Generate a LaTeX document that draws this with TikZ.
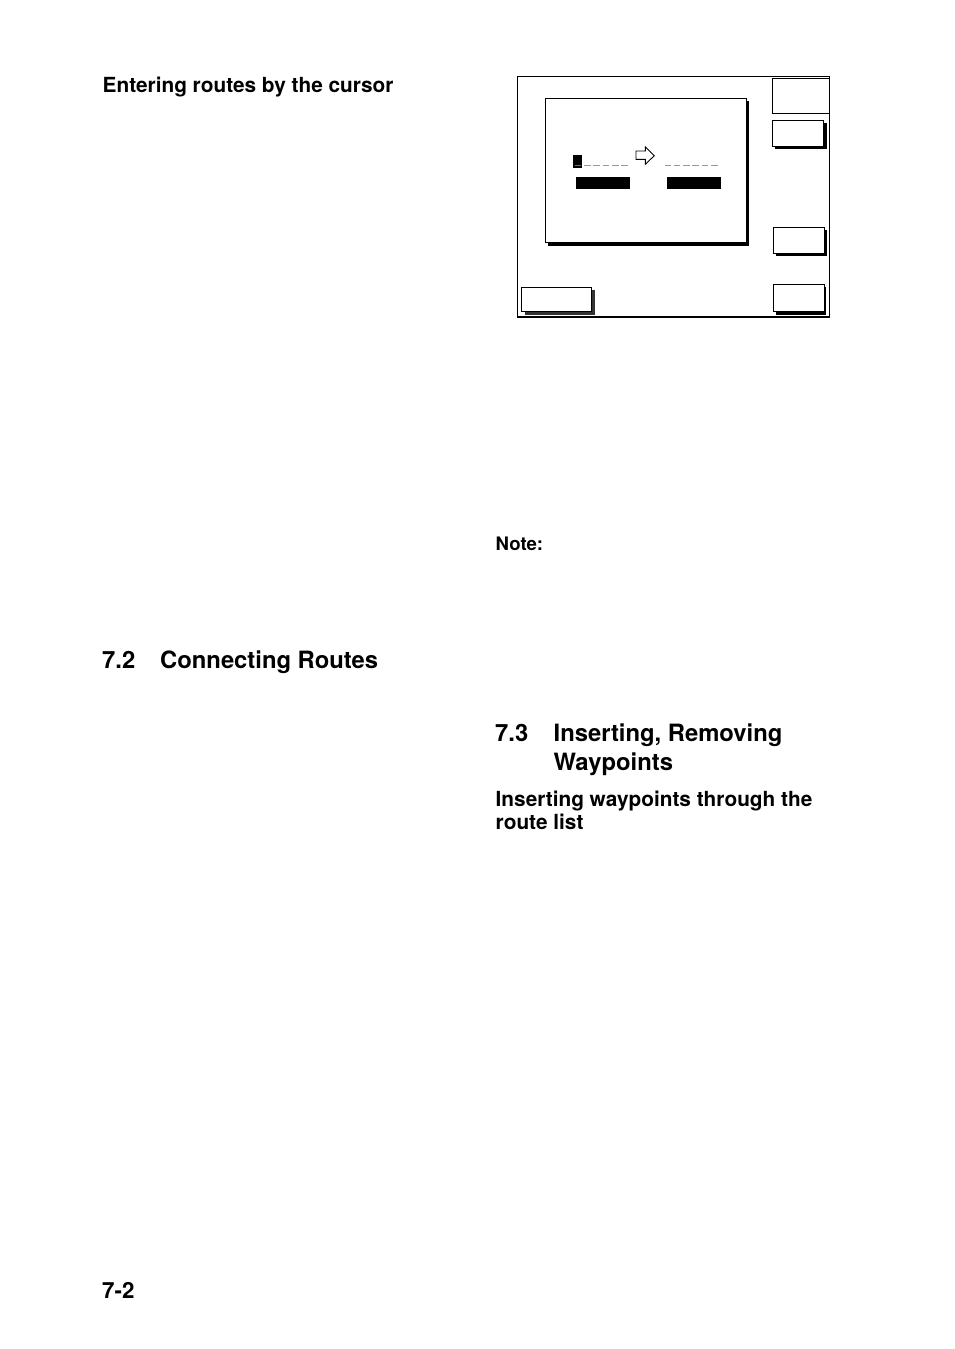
\documentclass[tikz,border=0pt]{standalone}
\usepackage{fontspec}
\setmainfont{TeX Gyre Heros}
\begin{document}
\begin{tikzpicture}[x=1pt,y=-1pt,
  lab/.style={anchor=base west,inner sep=0pt,font=\fontsize{20.8}{25}\selectfont\bfseries},
  small/.style={anchor=base west,inner sep=0pt,font=\fontsize{18.6}{22}\selectfont\bfseries},
  head/.style={anchor=base west,inner sep=0pt,font=\fontsize{23.8}{29}\selectfont\bfseries},
  folio/.style={anchor=base west,inner sep=0pt,font=\fontsize{22.3}{27}\selectfont\bfseries},
  frm/.style={draw=black,line width=1.2pt,fill=white},
  shd/.style={fill=black},
  grayd/.style={draw=black!40,line width=1.5pt},
  ]
\useasboundingbox (0,0) rectangle (954,1349);
\fill[white] (0,0) rectangle (954,1349);
\node[lab] (t1) at (102.5,92.5) {Entering routes by the cursor};
\node[small] (t2) at (495.5,550) {Note:};
\node[head] (t3) at (102,668.5) {7.2};
\node[head] (t4) at (160,668.5) {Connecting Routes};
\node[head] (t5) at (495,741.5) {7.3};
\node[head] (t6) at (553.5,741.5) {Inserting, Removing};
\node[head] (t7) at (553.5,770.5) {Waypoints};
\node[lab] (t8) at (495.5,806) {Inserting waypoints through the};
\node[lab] (t9) at (495.5,829) {route list};
\node[folio] (t10) at (102,1298.5) {7-2};
% screen
\draw[draw=black,line width=1.3pt,fill=white] (517.7,76.5) rectangle (829.5,316.7);
\draw[draw=black,line width=1.9pt] (829.5,76) -- (829.5,317) -- (517,317);
% dialog
\fill[shd] (548,101) rectangle (749,246);
\draw[frm,line width=1.1pt] (545.5,98.5) rectangle (746.7,242.7);
% buttons
\draw[frm,line width=0.9pt] (772.5,78.3) rectangle (829,113.3);
\draw[draw=black,line width=1.9pt] (829.5,76) -- (829.5,120);
\fill[shd] (775,123) rectangle (827,149);
\draw[frm] (772.5,120.5) rectangle (823.7,146.7);
\fill[shd] (776,230) rectangle (827,256);
\draw[frm] (773.5,227.5) rectangle (824.7,253.7);
\fill[shd] (776,287) rectangle (826,315);
\draw[frm] (773.5,284.5) rectangle (824.7,311.7);
\fill[black!80] (525,290) rectangle (595,315);
\draw[frm] (521.5,287.5) rectangle (591.7,311.7);
% cursor field
\fill[black] (573,155) rectangle (582,168);
\draw[draw=black!55,line width=1.1pt] (574.5,165.3) -- (580.5,165.3);
\foreach \x in {584,593.3,602.6,611.9,621.2}{\draw[grayd] (\x,165.3) -- ++(6.6,0);}
\foreach \x in {664.5,673.8,683.1,692.4,701.7,711}{\draw[grayd] (\x,165.3) -- ++(6.6,0);}
\fill[black] (576,177) rectangle (630,189);
\fill[black] (667,177) rectangle (721,189);
% arrow
\draw[draw=black,line width=0.9pt,fill=white,line join=miter] (636,151) -- (645.3,151) -- (645.3,146.7) -- (654.3,155.7) -- (645.3,164.3) -- (645.3,159.3) -- (636,159.3) -- cycle;
\end{tikzpicture}
\end{document}
